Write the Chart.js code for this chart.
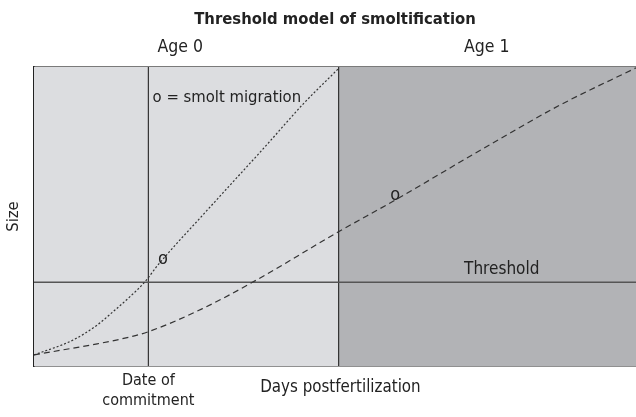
<!DOCTYPE html>
<html>
<head>
<meta charset="utf-8">
<script src="https://cdn.jsdelivr.net/npm/chart.js@4"></script>
<style>
  html, body { margin: 0; padding: 0; background: #ffffff; }
  #wrap { width: 636px; height: 417px; }
</style>
</head>
<body>
<div id="wrap"><canvas id="c" width="636" height="417"></canvas></div>
<script>
// ---- data (arbitrary units: days 0-100, size 0-100) ----
const titleText = "Threshold model of smoltification";
const ageLabels = ["Age 0", "Age 1"];
const ageLabelX = [24.3, 75.2];
const ageBoundaryX = 50.6;
const commitmentX = 19;
const commitmentLabel = ["Date of", "commitment"];
const xAxisTitle = "Days postfertilization";
const xAxisTitleX = 50.9;
const yAxisTitle = "Size";
const thresholdY = 28;
const thresholdLabel = "Threshold";
const thresholdLabelPos = [77.7, 32.3];
const legendNote = "o = smolt migration";
const legendNotePos = [19.7, 89.8];

// early-smolting fish (dotted): days, size
const fastX = [0, 6.5, 10.5, 13.1, 15.9, 18.4, 20.6, 28.5, 38.9, 44.7, 50.5];
const fastY = [3.7, 8.7, 13.7, 18.1, 23.1, 28.1, 33.8, 51.5, 74.5, 87.6, 99.3];
// late-smolting fish (dashed)
const slowX = [0, 4.8, 10.5, 15.9, 18.9, 27.9, 37.0, 50.5, 60.0, 74.0, 87.4, 100];
const slowY = [3.7, 5.4, 7.4, 9.7, 11.4, 19.1, 28.8, 44.8, 55.5, 72.0, 87.3, 99.7];
// smolt migration markers
const migrationX = [21.4, 60.0];
const migrationY = [34.9, 56.4];

const FONT = "'DejaVu Sans Condensed', 'Liberation Sans Narrow', 'Arial Narrow', sans-serif";
const TXT = '#222222';

const pts = (xs, ys) => xs.map((x, i) => ({ x: x, y: ys[i] }));

const annotations = {
  id: 'annotations',
  afterDatasetsDraw(chart) {
    const ctx = chart.ctx, xs = chart.scales.x, ys = chart.scales.y;
    ctx.save();
    ctx.fillStyle = TXT;
    // legend note
    ctx.font = '16.5px ' + FONT;
    ctx.textAlign = 'left'; ctx.textBaseline = 'middle';
    ctx.fillText(legendNote, xs.getPixelForValue(legendNotePos[0]), ys.getPixelForValue(legendNotePos[1]));
    // threshold label
    ctx.font = '17px ' + FONT;
    ctx.textAlign = 'center';
    ctx.fillText(thresholdLabel, xs.getPixelForValue(thresholdLabelPos[0]), ys.getPixelForValue(thresholdLabelPos[1]));
    // migration markers
    ctx.font = '18px ' + FONT;
    migrationX.forEach((mx, i) => {
      ctx.fillText('o', xs.getPixelForValue(mx), ys.getPixelForValue(migrationY[i]) - 2);
    });
    // x axis title
    ctx.font = '16.8px ' + FONT;
    ctx.fillText(xAxisTitle, xs.getPixelForValue(xAxisTitleX), chart.chartArea.bottom + 21.5);
    ctx.restore();
  }
};

new Chart(document.getElementById('c'), {
  type: 'line',
  data: {
    datasets: [
      { data: pts([0, ageBoundaryX], [100, 100]), fill: 'origin', backgroundColor: '#dcdde0', borderWidth: 0, pointRadius: 0, order: 10 },
      { data: pts([ageBoundaryX, 100], [100, 100]), fill: 'origin', backgroundColor: '#b2b3b6', borderWidth: 0, pointRadius: 0, order: 10 },
      { data: pts([0, 100], [thresholdY, thresholdY]), borderColor: '#555555', borderWidth: 1.5, pointRadius: 0, order: 5 },
      { data: pts([commitmentX, commitmentX], [0, 100]), borderColor: '#333333', borderWidth: 1.2, pointRadius: 0, order: 5 },
      { data: pts([ageBoundaryX, ageBoundaryX], [0, 100]), borderColor: '#333333', borderWidth: 1.2, pointRadius: 0, order: 5 },
      { data: pts(fastX, fastY), borderColor: '#333333', borderWidth: 1.2, borderDash: [2, 2], pointRadius: 0, cubicInterpolationMode: 'monotone', order: 1 },
      { data: pts(slowX, slowY), borderColor: '#333333', borderWidth: 1.2, borderDash: [6, 4], pointRadius: 0, cubicInterpolationMode: 'monotone', order: 1 }
    ]
  },
  options: {
    responsive: false,
    animation: false,
    devicePixelRatio: 1,
    layout: { padding: 0 },
    plugins: {
      legend: { display: false },
      tooltip: { enabled: false },
      title: {
        display: true, text: titleText, color: TXT, fullSize: false,
        font: { family: FONT, size: 16.5, weight: 'bold', lineHeight: 1.2 },
        padding: { top: 10, bottom: 0 }
      }
    },
    scales: {
      x: {
        type: 'linear', position: 'bottom', min: 0, max: 100,
        grid: { display: false, drawTicks: false },
        border: { display: true, color: '#222222', width: 1.5 },
        afterBuildTicks: (s) => { s.ticks = [{ value: commitmentX }]; },
        afterFit: (s) => { s.height = 51; },
        ticks: {
          autoSkip: false, maxRotation: 0, padding: 5, color: TXT,
          font: { family: FONT, size: 16, lineHeight: '20px' },
          callback: () => commitmentLabel
        }
      },
      x2: {
        type: 'linear', position: 'top', min: 0, max: 100,
        grid: { display: false, drawTicks: false },
        border: { display: true, color: '#7a7a7a', width: 2 },
        afterBuildTicks: (s) => { s.ticks = ageLabelX.map(v => ({ value: v })); },
        afterFit: (s) => { s.height = 37.2; },
        ticks: {
          autoSkip: false, maxRotation: 0, padding: 9.5, color: TXT,
          font: { family: FONT, size: 17.5, lineHeight: 1.2 },
          callback: (v) => ageLabels[ageLabelX.indexOf(v)]
        }
      },
      y: {
        type: 'linear', position: 'left', min: 0, max: 100,
        grid: { display: false, drawTicks: false },
        border: { display: true, color: '#222222', width: 1.5 },
        ticks: { display: false },
        afterFit: (s) => { s.width = 34; },
        title: {
          display: true, text: yAxisTitle, color: TXT,
          font: { family: FONT, size: 16.5, lineHeight: 1.2 },
          padding: { top: 4, bottom: 0 }
        }
      }
    }
  },
  plugins: [annotations]
});
</script>
</body>
</html>
